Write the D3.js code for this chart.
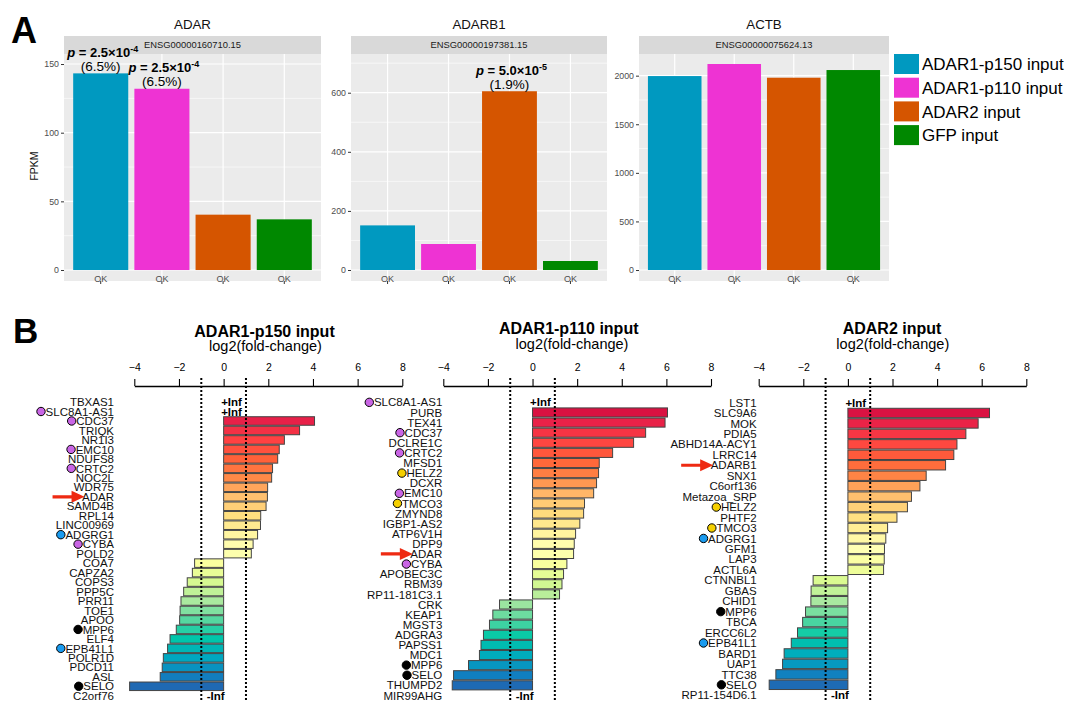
<!DOCTYPE html>
<html><head><meta charset="utf-8">
<script src="https://cdn.jsdelivr.net/npm/d3@7"></script>
<style>body{margin:0;background:#fff;} svg{display:block;font-family:"Liberation Sans",Arial,Helvetica,sans-serif;}</style>
</head><body><svg id="c" width="1065" height="702"></svg>
<script>
// ---------------- DATA ----------------
const conditions = ["ADAR1-p150 input", "ADAR1-p110 input", "ADAR2 input", "GFP input"];
const geneTitles = ["ADAR", "ADARB1", "ACTB"];
const geneIds = ["ENSG00000160710.15", "ENSG00000197381.15", "ENSG00000075624.13"];
const fpkmADAR = [143.2, 132.0, 40.3, 36.9];
const fpkmADARB1 = [151, 88, 605, 30.5];
const fpkmACTB = [1996, 2120, 1979, 2058];
const xTickLabels = ["OK", "OK", "OK", "OK"];
const yTicksADAR = [0, 50, 100, 150];
const yTicksADARB1 = [0, 200, 400, 600];
const yTicksACTB = [0, 500, 1000, 1500, 2000];
// p-value annotations (facet index, condition index, mantissa, exponent, percent)
const annotFacet = [0, 0, 1];
const annotCond = [0, 1, 2];
const annotMant = ["2.5", "2.5", "5.0"];
const annotExp = ["-4", "-4", "-5"];
const annotPct = ["6.5%", "6.5%", "1.9%"];

// Panel B
const bTitles = ["ADAR1-p150 input", "ADAR1-p110 input", "ADAR2 input"];
const bAxisTicks = [-4, -2, 0, 2, 4, 6, 8];
const genesP150 = ["TBXAS1","SLC8A1-AS1","CDC37","TRIQK","NR1I3","EMC10","NDUFS8","CRTC2","NOC2L","WDR75","ADAR","SAMD4B","RPL14","LINC00969","ADGRG1","CYBA","POLD2","COA7","CAPZA2","COPS3","PPP5C","PRR11","TOE1","APOO","MPP6","ELF4","EPB41L1","POLR1D","PDCD11","ASL","SELO","C2orf76"];
const lfcP150 = [Infinity, Infinity, 4.07, 3.40, 2.72, 2.49, 2.42, 2.19, 2.15, 1.97, 1.96, 1.90, 1.66, 1.65, 1.52, 1.32, 1.24, -1.30, -1.40, -1.63, -1.79, -1.91, -1.95, -1.97, -2.12, -2.40, -2.51, -2.70, -2.75, -2.84, -4.21, -Infinity];
const genesP110 = ["SLC8A1-AS1","PURB","TEX41","CDC37","DCLRE1C","CRTC2","MFSD1","HELZ2","DCXR","EMC10","TMCO3","ZMYND8","IGBP1-AS2","ATP6V1H","DPP9","ADAR","CYBA","APOBEC3C","RBM39","RP11-181C3.1","CRK","KEAP1","MGST3","ADGRA3","PAPSS1","MDC1","MPP6","SELO","THUMPD2","MIR99AHG"];
const lfcP110 = [Infinity, 6.05, 5.94, 5.07, 4.53, 3.59, 2.99, 2.96, 2.87, 2.74, 2.33, 2.29, 2.12, 1.93, 1.87, 1.84, 1.54, 1.39, 1.32, 1.21, -1.48, -1.78, -1.93, -2.20, -2.31, -2.38, -2.87, -3.54, -3.60, -Infinity];
const genesADAR2 = ["LST1","SLC9A6","MOK","PDIA5","ABHD14A-ACY1","LRRC14","ADARB1","SNX1","C6orf136","Metazoa_SRP","HELZ2","PHTF2","TMCO3","ADGRG1","GFM1","LAP3","ACTL6A","CTNNBL1","GBAS","CHID1","MPP6","TBCA","ERCC6L2","EPB41L1","BARD1","UAP1","TTC38","SELO","RP11-154D6.1"];
const lfcADAR2 = [Infinity, 6.35, 5.84, 5.29, 4.89, 4.75, 4.38, 3.51, 3.23, 2.85, 2.67, 2.20, 1.78, 1.70, 1.64, 1.63, 1.60, -1.56, -1.65, -1.66, -1.90, -2.03, -2.26, -2.54, -2.86, -2.93, -3.23, -3.53, -Infinity];
const arrowGenes = ["ADAR", "ADAR", "ADARB1"];
const purpleGenes = ["SLC8A1-AS1", "CDC37", "EMC10", "CRTC2", "CYBA"];
const yellowGenes = ["HELZ2", "TMCO3"];
const blueGenes = ["ADGRG1", "EPB41L1"];
const blackGenes = ["MPP6", "SELO"];

// ---------------- STYLE ----------------
const condColors = ["#0099C0", "#EE33D3", "#D55500", "#008800"];
const markerColor = {purple: "#C965E5", yellow: "#F5D000", blue: "#1A9BEF", black: "#000000"};
const rampStops = [0, 0.065, 0.13, 0.2, 0.26, 0.32, 0.39, 0.45, 0.5, 0.55, 0.61, 0.68, 0.74, 0.8, 0.87, 0.93, 1];
const rampCols = ["#C8003A","#E82048","#FF4242","#FF6438","#FF8A48","#FFBF6E","#FFE080","#FFF5A0","#FFFFB4","#FAFF9E","#D8FA90","#A8E8A0","#58D8A0","#00C8A8","#00A8C0","#1080C0","#2C55A8"];
const ramp = d3.scaleLinear().domain(rampStops).range(rampCols).interpolate(d3.interpolateRgb);

const svg = d3.select("#c");
svg.append("rect").attr("width", 1065).attr("height", 702).attr("fill", "#fff");

// ---------------- PANEL A ----------------
svg.append("text").attr("x", 11).attr("y", 43).attr("font-size", 36).attr("font-weight", "bold").text("A");

const facets = [
  {vals: fpkmADAR, ticks: yTicksADAR, x0: 64, x1: 321, dom: [-8, 157.3]},
  {vals: fpkmADARB1, ticks: yTicksADARB1, x0: 351, x1: 607, dom: [-37.2, 731]},
  {vals: fpkmACTB, ticks: yTicksACTB, x0: 639, x1: 889, dom: [-113, 2223]}
];
const stripTop = 36, stripBot = 54, panelBot = 281;
const xScalesA = [], yScalesA = [];
facets.forEach((f, fi) => {
  const g = svg.append("g");
  const x = d3.scaleBand().domain(conditions).range([f.x0, f.x1]).paddingInner(0.1).paddingOuter(0.15);
  const y = d3.scaleLinear().domain(f.dom).range([panelBot, stripBot]);
  xScalesA.push(x); yScalesA.push(y);
  g.append("text").attr("x", (f.x0 + f.x1) / 2).attr("y", 29).attr("text-anchor", "middle")
    .attr("font-size", 13.3).attr("fill", "#111").text(geneTitles[fi]);
  g.append("rect").attr("x", f.x0).attr("y", stripTop).attr("width", f.x1 - f.x0).attr("height", stripBot - stripTop).attr("fill", "#D9D9D9");
  g.append("text").attr("x", (f.x0 + f.x1) / 2).attr("y", (stripTop + stripBot) / 2).attr("dy", "0.35em")
    .attr("text-anchor", "middle").attr("font-size", 9.4).attr("fill", "#1a1a1a").text(geneIds[fi]);
  g.append("rect").attr("x", f.x0).attr("y", stripBot).attr("width", f.x1 - f.x0).attr("height", panelBot - stripBot).attr("fill", "#EBEBEB");
  const step = f.ticks[1] - f.ticks[0];
  const minor = [];
  for (let i = 0; i < f.ticks.length + 1; i++) { const v = f.ticks[0] + step * (i + 0.5); if (v < f.dom[1]) minor.push(v); }
  g.selectAll(".mn").data(minor).enter().append("line")
    .attr("x1", f.x0).attr("x2", f.x1).attr("y1", d => y(d)).attr("y2", d => y(d)).attr("stroke", "#fff").attr("stroke-width", 0.6);
  g.selectAll(".mj").data(f.ticks).enter().append("line")
    .attr("x1", f.x0).attr("x2", f.x1).attr("y1", d => y(d)).attr("y2", d => y(d)).attr("stroke", "#fff").attr("stroke-width", 1.2);
  g.selectAll(".vg").data(conditions).enter().append("line")
    .attr("x1", d => x(d) + x.bandwidth() / 2).attr("x2", d => x(d) + x.bandwidth() / 2)
    .attr("y1", stripBot).attr("y2", panelBot).attr("stroke", "#fff").attr("stroke-width", 1.2);
  g.selectAll(".bar").data(f.vals).enter().append("rect")
    .attr("x", (d, i) => x(conditions[i])).attr("width", x.bandwidth())
    .attr("y", d => y(d)).attr("height", d => y(0) - y(d))
    .attr("fill", (d, i) => condColors[i]);
  const ya = g.append("g").attr("transform", `translate(${f.x0},0)`)
    .call(d3.axisLeft(y).tickValues(f.ticks).tickSize(3).tickPadding(2).tickSizeOuter(0).tickFormat(d3.format("d")));
  ya.select(".domain").remove();
  ya.selectAll("line").attr("stroke", "#333");
  ya.selectAll("text").attr("font-size", 8.8).attr("fill", "#4D4D4D").attr("font-family", "Liberation Sans, Arial, sans-serif");
  const xa = g.append("g").attr("transform", `translate(0,${panelBot})`)
    .call(d3.axisBottom(x).tickSize(3).tickSizeOuter(0).tickFormat((d, i) => xTickLabels[i]));
  xa.select(".domain").remove();
  xa.selectAll("line").attr("stroke", "#333");
  xa.selectAll("text").attr("y", 1).attr("dy", "0").attr("font-size", 9).attr("fill", "#4D4D4D").attr("font-family", "Liberation Sans, Arial, sans-serif");
});
svg.append("text").attr("transform", "translate(38,166) rotate(-90)").attr("text-anchor", "middle")
  .attr("font-size", 10.5).attr("fill", "#111").text("FPKM");

annotFacet.forEach((fi, k) => {
  const x = xScalesA[fi], y = yScalesA[fi];
  const cx = x(conditions[annotCond[k]]) + x.bandwidth() / 2;
  const top = y(facets[fi].vals[annotCond[k]]);
  const t = svg.append("text").attr("x", cx + 2).attr("y", top - 16.5).attr("text-anchor", "middle")
    .attr("font-size", 13).attr("font-weight", "bold").attr("fill", "#000");
  t.append("tspan").attr("font-style", "italic").text("p");
  t.append("tspan").text(" = " + annotMant[k] + "\u00D710");
  t.append("tspan").attr("dy", -5).attr("font-size", 9).text(annotExp[k]);
  svg.append("text").attr("x", cx).attr("y", top - 2.5).attr("text-anchor", "middle")
    .attr("font-size", 13.5).attr("fill", "#000").text("(" + annotPct[k] + ")");
});

const lg = svg.append("g");
conditions.forEach((c, i) => {
  const yy = 54 + i * 23.7;
  lg.append("rect").attr("x", 894).attr("y", yy).attr("width", 25).attr("height", 20).attr("fill", condColors[i]);
  lg.append("text").attr("x", 922).attr("y", yy + 10).attr("dy", "0.36em").attr("font-size", 17).attr("fill", "#000").text(c);
});

// ---------------- PANEL B ----------------
svg.append("text").attr("x", 13).attr("y", 343).attr("font-size", 35).attr("font-weight", "bold").text("B");

const bPanels = [
  {genes: genesP150, vals: lfcP150, r: [134.3, 402.3], labelR: 114, tx: 264.5, ty: 336.5, sx: 265.5, sy: 350.5},
  {genes: genesP110, vals: lfcP110, r: [443.3, 711], labelR: 442.3, tx: 568.7, ty: 334, sx: 572, sy: 349},
  {genes: genesADAR2, vals: lfcADAR2, r: [758.7, 1026.3], labelR: 756.7, tx: 892, ty: 334, sx: 892.8, sy: 349}
];
function markerOf(g) {
  if (purpleGenes.includes(g)) return markerColor.purple;
  if (yellowGenes.includes(g)) return markerColor.yellow;
  if (blueGenes.includes(g)) return markerColor.blue;
  if (blackGenes.includes(g)) return markerColor.black;
  return null;
}
bPanels.forEach((p, pi) => {
  const g = svg.append("g");
  const x = d3.scaleLinear().domain([-4, 8]).range(p.r);
  const idx = p.genes.map((d, i) => i);
  const y = d3.scaleBand().domain(idx).range([397.3, 700.5]).paddingInner(0.1).paddingOuter(0.05);
  const n = p.genes.length;
  g.append("text").attr("x", p.tx).attr("y", p.ty).attr("text-anchor", "middle").attr("font-size", 16).attr("font-weight", "bold").text(bTitles[pi]);
  g.append("text").attr("x", p.sx).attr("y", p.sy).attr("text-anchor", "middle").attr("font-size", 14.5).text("log2(fold-change)");
  const ax = g.append("g").attr("transform", "translate(0,386)")
    .call(d3.axisTop(x).tickValues(bAxisTicks).tickSize(7).tickSizeOuter(0).tickPadding(8)
      .tickFormat(d => d < 0 ? "\u2212" + Math.abs(d) : String(d)));
  ax.select(".domain").attr("stroke", "#000").attr("stroke-width", 1.3);
  ax.selectAll("line").attr("stroke", "#000").attr("stroke-width", 1.1);
  ax.selectAll("text").attr("font-size", 10.5).attr("fill", "#000").attr("font-family", "Liberation Sans, Arial, sans-serif");
  const finite = idx.filter(i => isFinite(p.vals[i]));
  g.selectAll(".bb").data(finite).enter().append("rect")
    .attr("x", i => Math.min(x(0), x(p.vals[i])))
    .attr("width", i => Math.abs(x(p.vals[i]) - x(0)))
    .attr("y", i => y(i)).attr("height", y.bandwidth())
    .attr("fill", i => ramp(i / (n - 1)))
    .attr("stroke", "#444").attr("stroke-width", 1);
  [-1, 1].forEach(v => {
    g.append("line").attr("x1", x(v)).attr("x2", x(v)).attr("y1", 378).attr("y2", 702)
      .attr("stroke", "#000").attr("stroke-width", 2).attr("stroke-dasharray", "2,2");
  });
  idx.filter(i => !isFinite(p.vals[i])).forEach(i => {
    const pos = p.vals[i] > 0;
    g.append("text").attr("x", pos ? x(0) - 2.5 : x(0) + 1).attr("y", y(i) + y.bandwidth() / 2).attr("dy", "0.36em")
      .attr("text-anchor", pos ? "start" : "end").attr("font-size", 11.5).attr("font-weight", "bold")
      .text(pos ? "+Inf" : "-Inf");
  });
  idx.forEach(i => {
    const gene = p.genes[i];
    const cy = y(i) + y.bandwidth() / 2;
    const t = g.append("text").attr("x", p.labelR).attr("y", cy).attr("dy", "0.36em")
      .attr("text-anchor", "end").attr("font-size", 11.5).attr("fill", "#111").text(gene);
    const w = t.node().getComputedTextLength();
    const start = p.labelR - w;
    const mc = markerOf(gene);
    if (mc) {
      g.append("circle").attr("cx", start - 4.6).attr("cy", cy).attr("r", 4.2)
        .attr("fill", mc).attr("stroke", "#000").attr("stroke-width", 1);
    }
    if (gene === arrowGenes[pi]) {
      const tip = start + 2.5, tail = tip - 32, hl = 13;
      g.append("path")
        .attr("d", `M${tail},${cy - 1.6}L${tip - hl},${cy - 1.6}L${tip - hl},${cy - 6}L${tip},${cy}L${tip - hl},${cy + 6}L${tip - hl},${cy + 1.6}L${tail},${cy + 1.6}Z`)
        .attr("fill", "#EE2A12");
    }
  });
});
</script></body></html>
